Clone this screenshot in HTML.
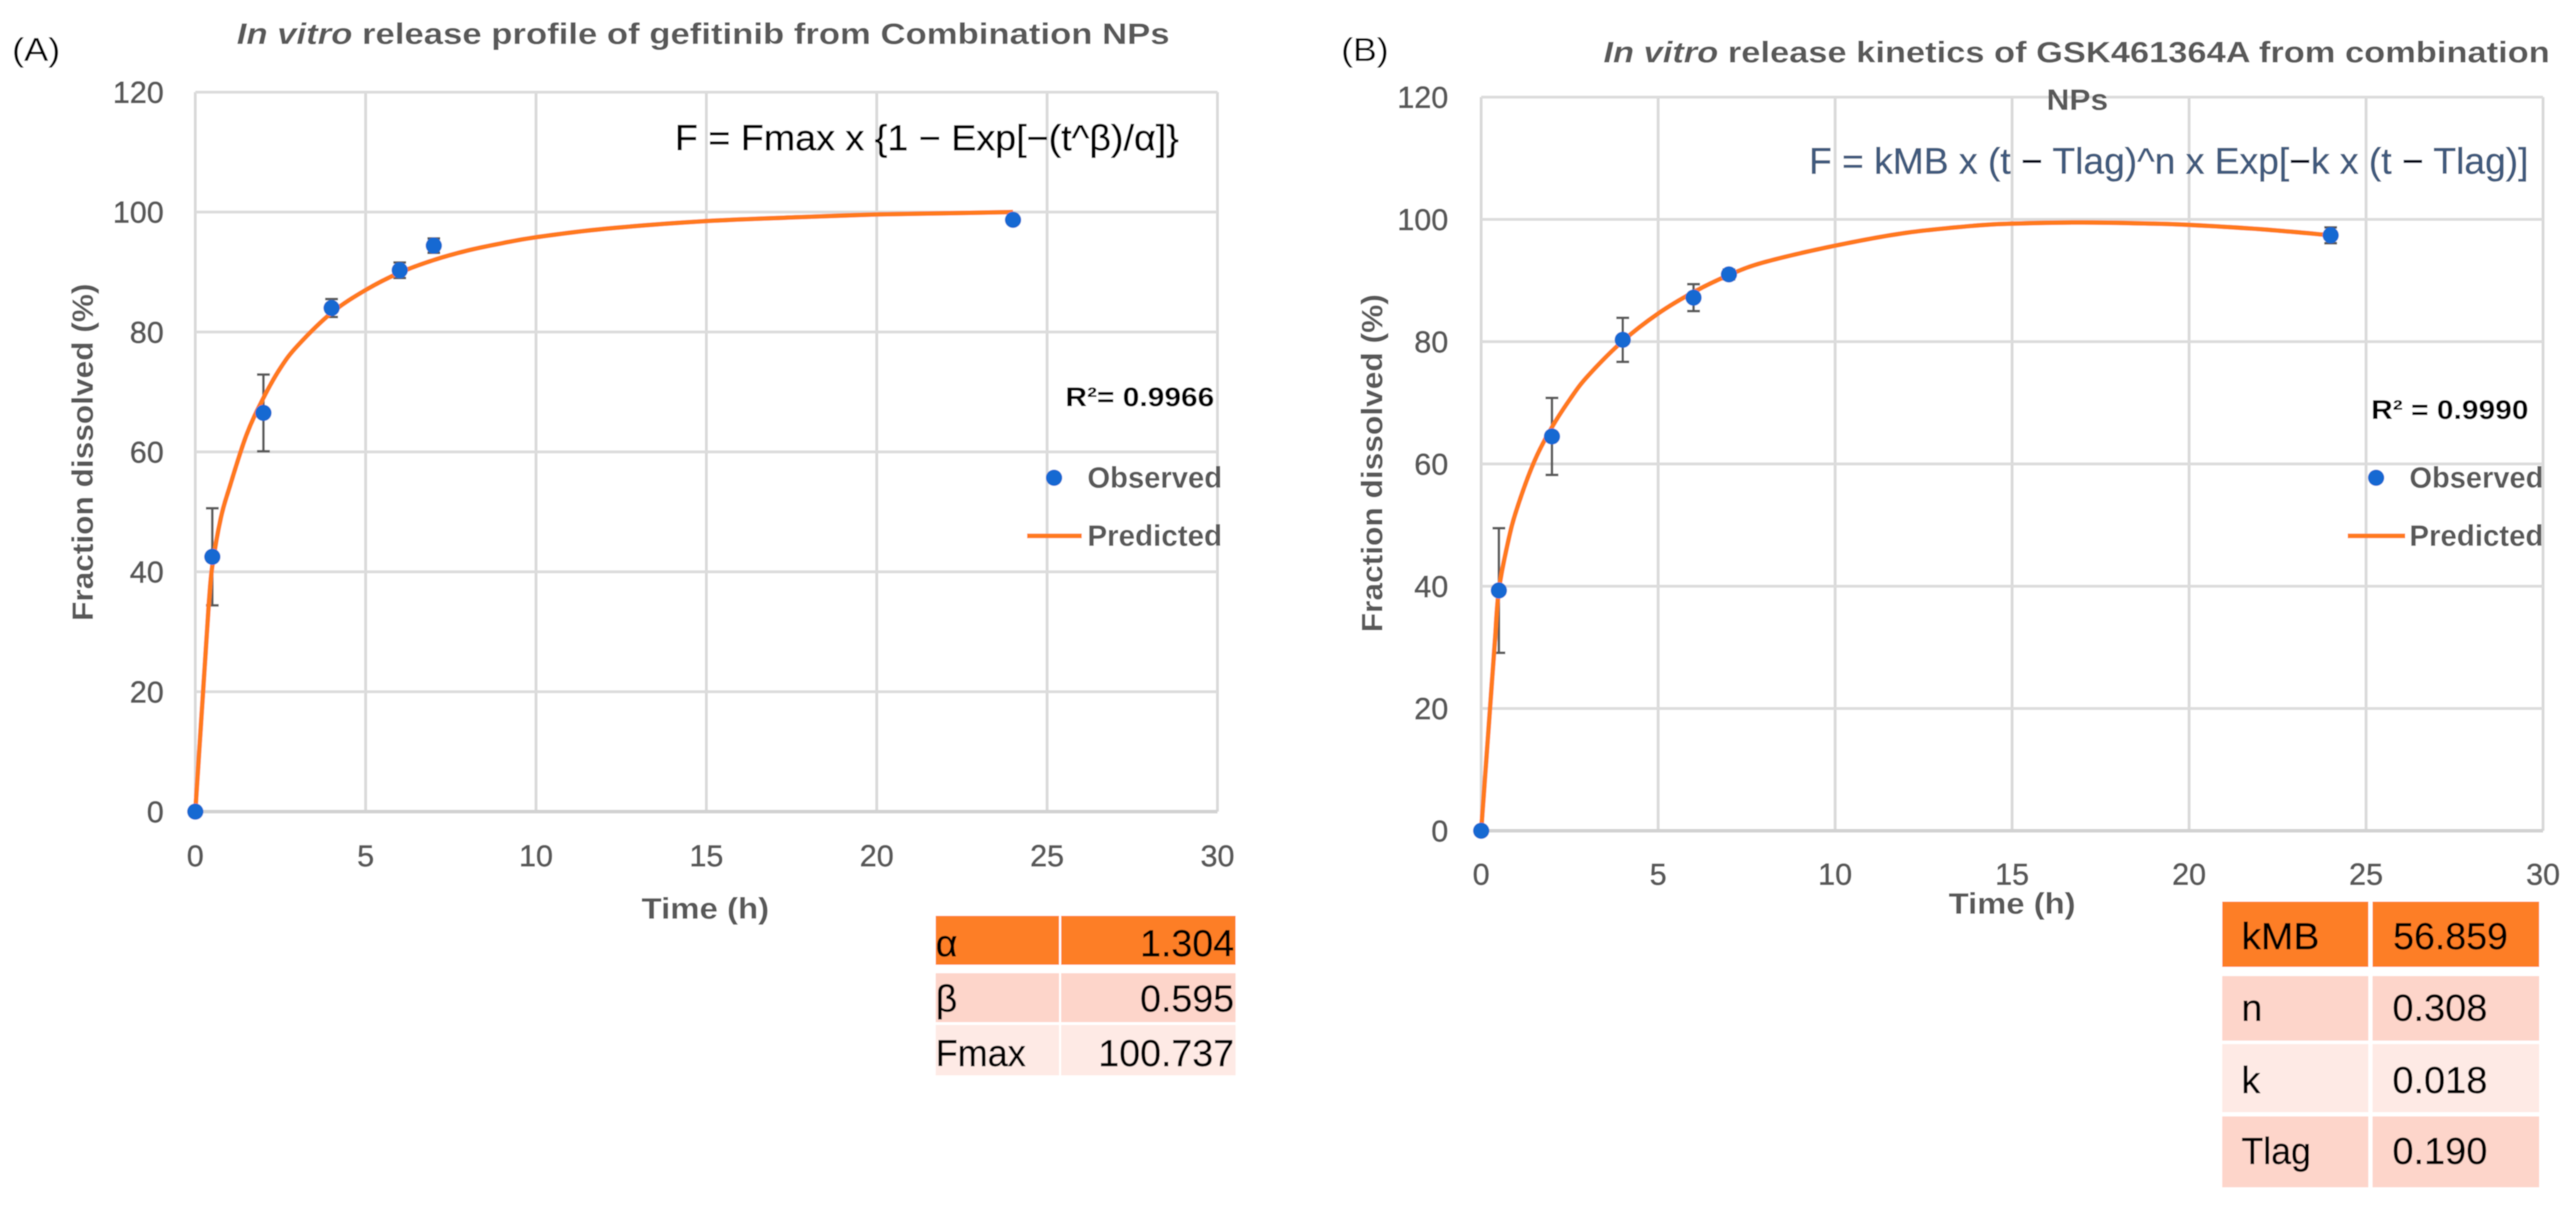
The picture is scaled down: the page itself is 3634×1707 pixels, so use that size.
<!DOCTYPE html>
<html lang="en">
<head>
<meta charset="utf-8">
<title>In vitro release profiles</title>
<style>
html,body{margin:0;padding:0;background:#fff;width:3634px;height:1707px;overflow:hidden}
svg{display:block}
text{font-family:"Liberation Sans",sans-serif}
.tick{font-size:43px;fill:#595959;font-weight:400;stroke:#595959;stroke-width:.9px}
.bold{font-weight:700;fill:#595959}
.cell{font-size:53px;fill:#000;stroke:#000;stroke-width:.5px}
.eq{stroke-width:.6px}
</style>
</head>
<body>
<svg id="fig" xmlns="http://www.w3.org/2000/svg" width="3634" height="1707" viewBox="0 0 3634 1707">
<defs><filter id="soft" x="0" y="0" width="100%" height="100%"><feGaussianBlur stdDeviation="0.9"/></filter></defs>
<g id="root" filter="url(#soft)">
<rect width="3634" height="1707" fill="#fff"/>

<g id="panelA"></g>
<g id="panelB"></g>

<text x="17" y="86" font-size="46" fill="#000" textLength="68" lengthAdjust="spacingAndGlyphs">(A)</text>
<text x="334" y="62" font-size="42" class="bold" textLength="1316" lengthAdjust="spacingAndGlyphs"><tspan font-style="italic">In vitro</tspan> release profile of gefitinib from Combination NPs</text>
<text class="eq" x="952" y="212" font-size="51" fill="#000" stroke="#000" textLength="711" lengthAdjust="spacingAndGlyphs">F = Fmax x {1 − Exp[−(t^β)/α]}</text>
<text x="1503" y="573" font-size="38" font-weight="700" fill="#000" textLength="210" lengthAdjust="spacingAndGlyphs">R²= 0.9966</text>
<text x="905" y="1296" font-size="42" class="bold" textLength="180" lengthAdjust="spacingAndGlyphs">Time (h)</text>
<text transform="translate(131,876) rotate(-90)" font-size="42" class="bold" textLength="476" lengthAdjust="spacingAndGlyphs">Fraction dissolved (%)</text>
<circle cx="1487" cy="674" r="11.5" fill="#1469d2"/>
<text x="1534" y="688" font-size="42" class="bold" textLength="190" lengthAdjust="spacingAndGlyphs">Observed</text>
<line x1="1449" y1="756" x2="1526" y2="756" stroke="#ff7a1f" stroke-width="6.5"/>
<text x="1534" y="770" font-size="42" class="bold" textLength="190" lengthAdjust="spacingAndGlyphs">Predicted</text>

<g>
<rect x="1320" y="1292" width="174" height="69" fill="#fd7e25"/>
<rect x="1497" y="1292" width="246" height="69" fill="#fd7e25"/>
<rect x="1320" y="1373" width="174" height="69" fill="#fdd5ca"/>
<rect x="1497" y="1373" width="246" height="69" fill="#fdd5ca"/>
<rect x="1320" y="1446" width="174" height="71" fill="#feeae5"/>
<rect x="1497" y="1446" width="246" height="71" fill="#feeae5"/>
<text class="cell" x="1320" y="1349">α</text>
<text class="cell" x="1741" y="1349" text-anchor="end">1.304</text>
<text class="cell" x="1320" y="1427">β</text>
<text class="cell" x="1741" y="1427" text-anchor="end">0.595</text>
<text class="cell" x="1320" y="1504" textLength="127" lengthAdjust="spacingAndGlyphs">Fmax</text>
<text class="cell" x="1741" y="1504" text-anchor="end">100.737</text>
</g>

<text x="1892" y="86" font-size="46" fill="#000" textLength="67" lengthAdjust="spacingAndGlyphs">(B)</text>
<text x="2262" y="88" font-size="42" class="bold" textLength="1335" lengthAdjust="spacingAndGlyphs"><tspan font-style="italic">In vitro</tspan> release kinetics of GSK461364A from combination</text>
<text x="2887" y="155" font-size="42" class="bold" textLength="87" lengthAdjust="spacingAndGlyphs">NPs</text>
<text class="eq" x="2552" y="245" font-size="52" fill="#3f5a7d" stroke="#3f5a7d" textLength="1015" lengthAdjust="spacingAndGlyphs">F = kMB x (t <tspan fill="#000">−</tspan> Tlag)^n x Exp[<tspan fill="#000">−</tspan>k x (t <tspan fill="#000">−</tspan> Tlag)]</text>
<text x="3345" y="591" font-size="38" font-weight="700" fill="#000" textLength="222" lengthAdjust="spacingAndGlyphs">R² = 0.9990</text>
<text x="2749" y="1289" font-size="42" class="bold" textLength="179" lengthAdjust="spacingAndGlyphs">Time (h)</text>
<text transform="translate(1950,892) rotate(-90)" font-size="42" class="bold" textLength="477" lengthAdjust="spacingAndGlyphs">Fraction dissolved (%)</text>
<circle cx="3352" cy="674" r="11.5" fill="#1469d2"/>
<text x="3399" y="688" font-size="42" class="bold" textLength="189" lengthAdjust="spacingAndGlyphs">Observed</text>
<line x1="3312" y1="756" x2="3393" y2="756" stroke="#ff7a1f" stroke-width="6.5"/>
<text x="3399" y="770" font-size="42" class="bold" textLength="189" lengthAdjust="spacingAndGlyphs">Predicted</text>

<g>
<rect x="3135" y="1272" width="206" height="92" fill="#fd7e25"/>
<rect x="3347" y="1272" width="235" height="92" fill="#fd7e25"/>
<rect x="3135" y="1377" width="206" height="91" fill="#fdd5ca"/>
<rect x="3347" y="1377" width="235" height="91" fill="#fdd5ca"/>
<rect x="3135" y="1473" width="206" height="96" fill="#feeae5"/>
<rect x="3347" y="1473" width="235" height="96" fill="#feeae5"/>
<rect x="3135" y="1575" width="206" height="100" fill="#fdd5ca"/>
<rect x="3347" y="1575" width="235" height="100" fill="#fdd5ca"/>
<text class="cell" x="3162" y="1339" textLength="110" lengthAdjust="spacingAndGlyphs">kMB</text>
<text class="cell" x="3376" y="1339" textLength="162" lengthAdjust="spacingAndGlyphs">56.859</text>
<text class="cell" x="3162" y="1440">n</text>
<text class="cell" x="3375" y="1440" textLength="134" lengthAdjust="spacingAndGlyphs">0.308</text>
<text class="cell" x="3162" y="1542">k</text>
<text class="cell" x="3375" y="1542" textLength="134" lengthAdjust="spacingAndGlyphs">0.018</text>
<text class="cell" x="3162" y="1642" textLength="98" lengthAdjust="spacingAndGlyphs">Tlag</text>
<text class="cell" x="3375" y="1642" textLength="134" lengthAdjust="spacingAndGlyphs">0.190</text>
</g>
</g>
</svg>
<script>
var xTickLabels = [0, 5, 10, 15, 20, 25, 30];
var yTickLabels = [0, 20, 40, 60, 80, 100, 120];

var aObsTime = [0, 0.5, 2, 4, 6, 7, 24];
var aObserved = [0, 42.5, 66.5, 84, 90.3, 94.4, 98.7];
var aError = [0, 8.1, 6.4, 1.5, 1.3, 1.2, 0.5];
var aPredTime = [0, 0.4, 0.5, 0.75, 1, 1.5, 2, 2.5, 3, 4, 5, 6, 7, 8, 9, 10, 12, 15, 18, 20, 22, 24];
var aPredicted = [0, 35, 41, 49, 54, 62.8, 69, 74, 77.7, 83.2, 87, 89.9, 92, 93.6, 94.8, 95.8, 97.2, 98.5, 99.2, 99.6, 99.8, 100];

var bObsTime = [0, 0.5, 2, 4, 6, 7, 24];
var bObserved = [0, 39.3, 64.5, 80.3, 87.2, 91, 97.4];
var bError = [0, 10.2, 6.3, 3.6, 2.2, 0.8, 1.3];
var bPredTime = [0, 0.4, 0.5, 0.75, 1, 1.5, 2, 2.5, 3, 4, 5, 6, 7, 8, 10, 12, 14, 15, 17, 19, 20, 22, 24];
var bPredicted = [0, 32, 39.4, 47, 52.5, 60.4, 66, 70.5, 74.3, 80.1, 84.6, 88.1, 90.9, 93, 95.7, 97.8, 99, 99.3, 99.5, 99.3, 99.1, 98.4, 97.4];

var SVGNS = 'http://www.w3.org/2000/svg';

function make(parent, tag, props, text) {
  var node = document.createElementNS(SVGNS, tag);
  for (var k in props) node.setAttribute(k, props[k]);
  if (text !== undefined) node.textContent = text;
  parent.appendChild(node);
  return node;
}

function smoothPath(pts) {
  var d = 'M' + pts[0][0] + ' ' + pts[0][1] + 'L' + pts[1][0] + ' ' + pts[1][1];
  for (var i = 1; i < pts.length - 1; i++) {
    var p0 = pts[i - 1], p1 = pts[i], p2 = pts[i + 1], p3 = pts[Math.min(i + 2, pts.length - 1)];
    if (i === 1) p0 = p1;
    var c1x = p1[0] + (p2[0] - p0[0]) / 6, c1y = p1[1] + (p2[1] - p0[1]) / 6;
    var c2x = p2[0] - (p3[0] - p1[0]) / 6, c2y = p2[1] - (p3[1] - p1[1]) / 6;
    d += 'C' + c1x + ' ' + c1y + ' ' + c2x + ' ' + c2y + ' ' + p2[0] + ' ' + p2[1];
  }
  return d;
}

function drawPanel(groupId, prefix, left, right, top, bottom, xLabelBaseline, yLabelRight, obsT, obsV, obsE, predT, predV) {
  var g = document.getElementById(groupId);
  var xMax = xTickLabels[xTickLabels.length - 1];
  var yMax = yTickLabels[yTickLabels.length - 1];
  function sx(v) { return left + (right - left) * v / xMax; }
  function sy(v) { return bottom - (bottom - top) * v / yMax; }

  xTickLabels.forEach(function (t) {
    var gl = make(g, 'line', {x1: sx(t), y1: top, x2: sx(t), y2: bottom, stroke: '#d9d9d9', 'stroke-width': 4});
    
    
    var lb = make(g, 'text', {x: sx(t), y: xLabelBaseline, 'text-anchor': 'middle', 'class': 'tick'}, String(t));
    
    
  });
  yTickLabels.forEach(function (t) {
    var gl = make(g, 'line', {x1: left, y1: sy(t), x2: right, y2: sy(t), stroke: t === 0 ? '#d2d2d2' : '#dcdcdc', 'stroke-width': t === 0 ? 5 : 4});
    
    
    var lb = make(g, 'text', {x: yLabelRight, y: sy(t) + 15, 'text-anchor': 'end', 'class': 'tick'}, String(t));
    
    
  });

  obsT.forEach(function (t, i) {
    if (!obsE[i]) return;
    var hi = sy(obsV[i] + obsE[i]), lo = sy(obsV[i] - obsE[i]), cx = sx(t);
    var eb = make(g, 'path', {
      d: 'M' + (cx - 9) + ' ' + hi + 'H' + (cx + 9) + 'M' + cx + ' ' + hi + 'V' + lo + 'M' + (cx - 9) + ' ' + lo + 'H' + (cx + 9),
      fill: 'none', stroke: '#595959', 'stroke-width': 3.5
    });
    
    
  });

  var pts = predT.map(function (t, i) { return [sx(t), sy(predV[i])]; });
  var line = make(g, 'path', {d: smoothPath(pts), fill: 'none', stroke: '#ff7a1f', 'stroke-width': 6.5, 'stroke-linejoin': 'round'});
  
  

  obsT.forEach(function (t, i) {
    var dot = make(g, 'circle', {cx: sx(t), cy: sy(obsV[i]), r: 11.5, fill: '#1469d2'});
    
    
  });
}

drawPanel('panelA', 'panel-a', 275.5, 1717.5, 130, 1145, 1222, 231, aObsTime, aObserved, aError, aPredTime, aPredicted);
drawPanel('panelB', 'panel-b', 2089.5, 3587.5, 137, 1172, 1248, 2043, bObsTime, bObserved, bError, bPredTime, bPredicted);
</script>
</body>
</html>
